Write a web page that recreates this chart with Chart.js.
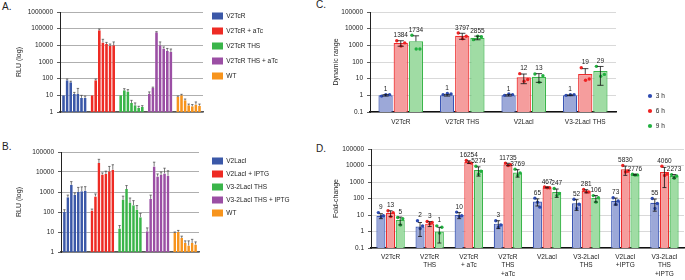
<!DOCTYPE html>
<html>
<head>
<meta charset="utf-8">
<script src="https://cdn.jsdelivr.net/npm/chart.js@4.4.0/dist/chart.umd.min.js"></script>
<style>
body{margin:0;background:#fff;width:685px;height:280px;position:relative;overflow:hidden;font-family:'Liberation Sans',Arial,sans-serif}
.box{position:absolute}
.tag{position:absolute;font-size:10px;line-height:10px;color:#222}
</style>
</head>
<body>
<div class="tag" style="left:2px;top:2px">A.</div>
<div class="tag" style="left:2px;top:142px">B.</div>
<div class="tag" style="left:316px;top:0px">C.</div>
<div class="tag" style="left:316px;top:144px">D.</div>
<div class="box" style="left:0;top:0;width:312px;height:140px"><canvas id="chartA"></canvas></div>
<div class="box" style="left:0;top:140px;width:312px;height:140px"><canvas id="chartB"></canvas></div>
<div class="box" style="left:320px;top:0;width:365px;height:140px"><canvas id="chartC"></canvas></div>
<div class="box" style="left:320px;top:140px;width:365px;height:140px"><canvas id="chartD"></canvas></div>
<script>
Chart.defaults.font.family = "'Liberation Sans', Arial, sans-serif";
Chart.defaults.font.size = 6.5;
Chart.defaults.color = '#222';
Chart.defaults.animation = false;
Chart.defaults.plugins.tooltip.enabled = false;

// ---------- panel A : RLU, TetR constructs ----------
var groupNamesA = ['V2TcR', 'V2TcR + aTc', 'V2TcR THS', 'V2TcR THS + aTc', 'WT'];
var blueA   = [10, 80, 60, 12, 12, 7, 7];
var redA    = [10, 80, 80000, 15000, 12000, 9000, 10000];
var greenA  = [10, 20, 17, 3.5, 2.5, 1.8, 2];
var purpleA = [12, 28, 60000, 10000, 6500, 4500, 4000];
var orangeA = [8, 10, 5, 2.5, 2.2, 2.8, 2.4];
var blueErrA   = [0, 15, 10, 3, 14, 3, 2];
var redErrA    = [0, 15, 15000, 8000, 3000, 3000, 6000];
var greenErrA  = [0, 5, 5, 1.5, 1, 0.4, 0.4];
var purpleErrA = [4, 3, 6000, 6000, 1500, 2000, 2000];
var orangeErrA = [1, 1.5, 1, 0.5, 0.6, 1.2, 0.6];
var ticksA = [1, 10, 100, 1000, 10000, 100000, 1000000];

// ---------- panel B : RLU, LacI constructs ----------
var groupNamesB = ['V2LacI', 'V2LacI + IPTG', 'V3-2LacI THS', 'V3-2LacI THS + IPTG', 'WT'];
var blueB   = [100, 550, 2300, 700, 1000, 1100, 1150];
var redB    = [120, 600, 28000, 7500, 8000, 11000, 13000];
var greenB  = [15, 420, 1400, 300, 220, 130, 55];
var purpleB = [11, 450, 19000, 6000, 7000, 8500, 6500];
var orangeB = [9, 10, 5, 2.8, 2.1, 2.8, 2.4];
var blueErrB   = [30, 150, 1000, 200, 700, 700, 700];
var redErrB    = [20, 200, 15000, 1500, 3000, 8000, 10000];
var greenErrB  = [6, 200, 700, 200, 150, 80, 30];
var purpleErrB = [5, 250, 12000, 2000, 3000, 7000, 5000];
var orangeErrB = [1, 2, 1.2, 0.8, 1.5, 1.5, 0.8];
var ticksB = [1, 10, 100, 1000, 10000, 100000];

// ---------- panel C : dynamic range ----------
var catsC = ['V2TcR', 'V2TcR THS', 'V2LacI', 'V3-2LacI THS'];
var timeLabels = ['3 h', '6 h', '9 h'];
var c3h = [1, 1, 1, 1];
var c6h = [1384, 3797, 12, 19];
var c9h = [1734, 2855, 13, 29];
var c3hErr = [0.1, 0.1, 0.1, 0.05];
var c6hErr = [500, 1500, 7, 21];
var c9hErr = [2000, 700, 7, 25];
var c3hReps = [[0.9, 1.1, 1.1], [1.1, 1.3, 1.2], [1.0, 1.2, 1.1], [1.0, 1.1, 1.1]];
var c6hReps = [[1900, 900, 1400], [5500, 2500, 3500], [20, 7, 9], [45, 8, 9.5]];
var c9hReps = [[4000, 600, 600], [2200, 3500, 3300], [19, 6, 15], [55, 14, 18]];
var ticksC = [0.1, 1, 10, 100, 1000, 10000, 100000];

// ---------- panel D : fold-change ----------
var catsD = ['V2TcR', ['V2TcR', 'THS'], ['V2TcR', '+ aTc'], ['V2TcR', 'THS', '+aTc'], 'V2LacI',
             ['V3-2LacI', 'THS'], ['V2LacI', '+IPTG'], ['V3-2LacI', 'THS', '+IPTG']];
var d3h = [9, 2, 10, 3, 65, 52, 73, 55];
var d6h = [13, 3, 16254, 11735, 467, 281, 5830, 4060];
var d9h = [5, 1, 5274, 3769, 247, 106, 2776, 2273];
var d3hErr = [3, 1.5, 4, 1.5, 30, 33, 33, 38];
var d6hErr = [5, 1, 3000, 2000, 30, 60, 3300, 3600];
var d9hErr = [2.5, 0.8, 3000, 1800, 130, 45, 200, 550];
var d3hReps = [[14, 8, 9], [4.5, 1.5, 2.2], [15, 8, 9], [4.5, 1.8, 2.5], [105, 60, 30], [90, 25, 45], [110, 45, 70], [100, 25, 50]];
var d6hReps = [[18, 8, 14], [4, 3, 3.5], [20000, 15000, 14000], [14000, 10000, 11000], [500, 450, 450], [350, 250, 250], [10000, 4000, 4500], [9000, 2500, 3000]];
var d9hReps = [[7, 2.5, 6], [2.2, 0.8, 1.8], [9000, 3000, 4500], [6000, 2500, 3500], [400, 150, 200], [150, 60, 110], [3000, 2600, 2700], [2800, 1700, 2300]];
var ticksD = [0.1, 1, 10, 100, 1000, 10000, 100000];

var groupColors = ['#3b58a8', '#ee2b24', '#3ab54a', '#9b4fa4', '#f7941d'];
var timeFill = ['#9ca8d8', '#f59d9d', '#a0dca4'];
var timeLine = ['#3a55b4', '#ee2b2b', '#3ab54a'];
var timeDot = ['#2e4bb0', '#ee2222', '#22b040'];
var fontStack = "'Liberation Sans', Arial, sans-serif";

// error bars, replicate dots and value labels drawn through the y scale
var errorBars = {
  id: 'errorBars',
  afterDatasetsDraw: function (chart) {
    var ctx = chart.ctx, ys = chart.scales.y;
    chart.data.datasets.forEach(function (ds, di) {
      if (!ds.errs) return;
      chart.getDatasetMeta(di).data.forEach(function (bar, i) {
        var v = ds.data[i], e = ds.errs[i];
        var top = ys.getPixelForValue(v + e);
        ctx.save();
        if (ds.reps) {
          var offs = [-0.28, 0.02, 0.28], repTop = top;
          ctx.fillStyle = ds.dotColor;
          ds.reps[i].forEach(function (r, k) {
            var py = ys.getPixelForValue(r);
            repTop = Math.min(repTop, py);
            ctx.beginPath();
            ctx.arc(bar.x + offs[k] * bar.width, py, 1.7, 0, Math.PI * 2);
            ctx.fill();
          });
          var low = v - e > ys.min ? ys.getPixelForValue(v - e) : null;
          var cw = bar.width * 0.22;
          ctx.strokeStyle = '#111';
          ctx.lineWidth = 0.8;
          ctx.beginPath();
          ctx.moveTo(bar.x, low === null ? bar.y : low);
          ctx.lineTo(bar.x, top);
          ctx.moveTo(bar.x - cw, top); ctx.lineTo(bar.x + cw, top);
          if (low !== null) { ctx.moveTo(bar.x - cw, low); ctx.lineTo(bar.x + cw, low); }
          ctx.stroke();
          ctx.fillStyle = '#222';
          ctx.font = '6.5px ' + fontStack;
          ctx.textAlign = 'center';
          ctx.textBaseline = 'bottom';
          ctx.fillText(String(v), bar.x, repTop - 2);
        } else if (e > 0) {
          ctx.strokeStyle = '#444';
          ctx.lineWidth = 0.7;
          ctx.beginPath();
          ctx.moveTo(bar.x, bar.y);
          ctx.lineTo(bar.x, top);
          ctx.moveTo(bar.x - 1.2, top); ctx.lineTo(bar.x + 1.2, top);
          ctx.stroke();
        }
        ctx.restore();
      });
    });
  }
};

// widest legend text, so the legend box can be placed exactly
var textWidth = function (texts, size) {
  var c = document.createElement('canvas').getContext('2d');
  c.font = size + 'px ' + fontStack;
  return Math.max.apply(null, texts.map(function (t) { return c.measureText(t).width; }));
};

var groupedSets = function (groups, errs) {
  var sets = [];
  for (var i = 0; i < groups[0].length; i++) {
    sets.push({
      data: groups.map(function (g) { return g[i]; }),
      errs: errs.map(function (g) { return g[i]; }),
      backgroundColor: groupColors,
      borderColor: 'rgba(255,255,255,0.55)',
      borderWidth: {left: 0.5, right: 0.5, top: 0, bottom: 0},
      barPercentage: 1,
      categoryPercentage: 0.88
    });
  }
  return sets;
};

var timeSets = function (values, errs, reps, catPct) {
  return values.map(function (vals, i) {
    return {
      label: timeLabels[i],
      data: vals,
      errs: errs[i],
      reps: reps[i],
      dotColor: timeDot[i],
      backgroundColor: timeFill[i],
      borderColor: timeLine[i],
      borderWidth: 1.2,
      barPercentage: 0.94,
      categoryPercentage: catPct
    };
  });
};

var decadeAxis = function (min, max, ticks, width, title, gridColor) {
  return {
    type: 'logarithmic', min: min, max: max,
    afterBuildTicks: function (s) { s.ticks = ticks.map(function (v) { return {value: v}; }); },
    afterFit: function (s) { s.width = width; },
    ticks: {padding: 4, callback: function (v) { return String(v); }},
    grid: {color: gridColor, lineWidth: 0.8, tickLength: 3, tickColor: '#333'},
    border: {color: '#222', width: 1},
    title: {display: true, text: title, font: {size: 7}, padding: 0}
  };
};

var spacer = function (pos, size) {
  return {
    type: 'linear', position: pos, display: true,
    grid: {display: false}, border: {display: false}, ticks: {display: false},
    afterFit: function (s) { if (pos === 'top') s.height = size; else s.width = size; }
  };
};

var groupLegend = function (names, pad) {
  return {
    position: 'right', align: 'start', maxWidth: 300,
    labels: {
      boxWidth: 11, boxHeight: 7, padding: pad, font: {size: 6.5},
      generateLabels: function () {
        return names.map(function (n, i) {
          return {text: n, fillStyle: groupColors[i], strokeStyle: groupColors[i], lineWidth: 0, hidden: false, index: i, fontColor: '#222'};
        });
      }
    }
  };
};

var rluChart = function (id, groups, errs, names, ticks, opt) {
  // legend width = padding + box + half font + text + 10 (Chart.js fit)
  var legendW = opt.legendPad + 11 + 3.25 + textWidth(names, 6.5) + 10;
  var padRight = 312 - (opt.legendLeft - opt.legendPad) - legendW;
  return new Chart(document.getElementById(id), {
    type: 'bar',
    data: {labels: names, datasets: groupedSets(groups, errs)},
    options: {
      responsive: true, maintainAspectRatio: false,
      layout: {padding: {left: 15, top: opt.top, right: padRight, bottom: 28}},
      scales: {
        x: {
          ticks: {display: false}, grid: {display: false, drawTicks: false},
          border: {color: '#555', width: 1.5},
          afterFit: function (s) { s.height = 0; }
        },
        y: decadeAxis(ticks[0], ticks[ticks.length - 1], ticks, opt.yWidth, 'RLU (log)', '#9a9a9a'),
        topPad: spacer('top', opt.topPad),
        gap: spacer('right', opt.legendLeft - opt.legendPad - opt.plotRight)
      },
      plugins: {legend: groupLegend(names, opt.legendPad)}
    },
    plugins: [errorBars]
  });
};

rluChart('chartA', [blueA, redA, greenA, purpleA, orangeA],
  [blueErrA, redErrA, greenErrA, purpleErrA, orangeErrA], groupNamesA, ticksA,
  {top: 4.5, topPad: 7.5, yWidth: 45, plotRight: 203, legendLeft: 212, legendPad: 8});

rluChart('chartB', [blueB, redB, greenB, purpleB, orangeB],
  [blueErrB, redErrB, greenErrB, purpleErrB, orangeErrB], groupNamesB, ticksB,
  {top: 11.5, topPad: 0.5, yWidth: 46, plotRight: 199, legendLeft: 212, legendPad: 6});

new Chart(document.getElementById('chartC'), {
  type: 'bar',
  data: {labels: catsC, datasets: timeSets([c3h, c6h, c9h], [c3hErr, c6hErr, c9hErr], [c3hReps, c6hReps, c9hReps], 0.74)},
  options: {
    responsive: true, maintainAspectRatio: false,
    layout: {padding: {left: 12.3, top: 12, right: 16, bottom: 2.25}},
    scales: {
      x: {
        grid: {display: false, drawTicks: false}, border: {color: '#111', width: 1.5},
        ticks: {padding: 6, font: {size: 6.5}},
        afterFit: function (s) { s.height = 25.75; }
      },
      y: decadeAxis(0.1, 100000, ticksC, 37.7, 'Dynamic range', '#cfcfcf'),
      gap: spacer('right', 23)
    },
    plugins: {
      legend: {
        position: 'right', align: 'end', maxWidth: 30,
        labels: {
          usePointStyle: true, pointStyle: 'circle', boxWidth: 5, boxHeight: 3, padding: 8.5,
          generateLabels: function (chart) {
            return chart.data.datasets.map(function (ds, i) {
              return {text: ds.label, fillStyle: ds.dotColor, strokeStyle: ds.dotColor, lineWidth: 0,
                      pointStyle: 'circle', hidden: false, datasetIndex: i, fontColor: '#222'};
            });
          }
        }
      }
    }
  },
  plugins: [errorBars]
});

new Chart(document.getElementById('chartD'), {
  type: 'bar',
  data: {labels: catsD, datasets: timeSets([d3h, d6h, d9h], [d3hErr, d6hErr, d9hErr], [d3hReps, d6hReps, d9hReps], 0.74)},
  options: {
    responsive: true, maintainAspectRatio: false,
    layout: {padding: {left: 12.3, top: 9, right: 1, bottom: 0}},
    scales: {
      x: {
        grid: {display: false, drawTicks: false}, border: {color: '#111', width: 1.5},
        ticks: {padding: 4.5, font: {size: 6.5, lineHeight: 1.35}, maxRotation: 0, autoSkip: false},
        afterFit: function (s) { s.height = 32; }
      },
      y: decadeAxis(0.1, 100000, ticksD, 38.7, 'Fold-change', '#cfcfcf')
    },
    plugins: {legend: {display: false}}
  },
  plugins: [errorBars]
});
</script>
</body>
</html>
